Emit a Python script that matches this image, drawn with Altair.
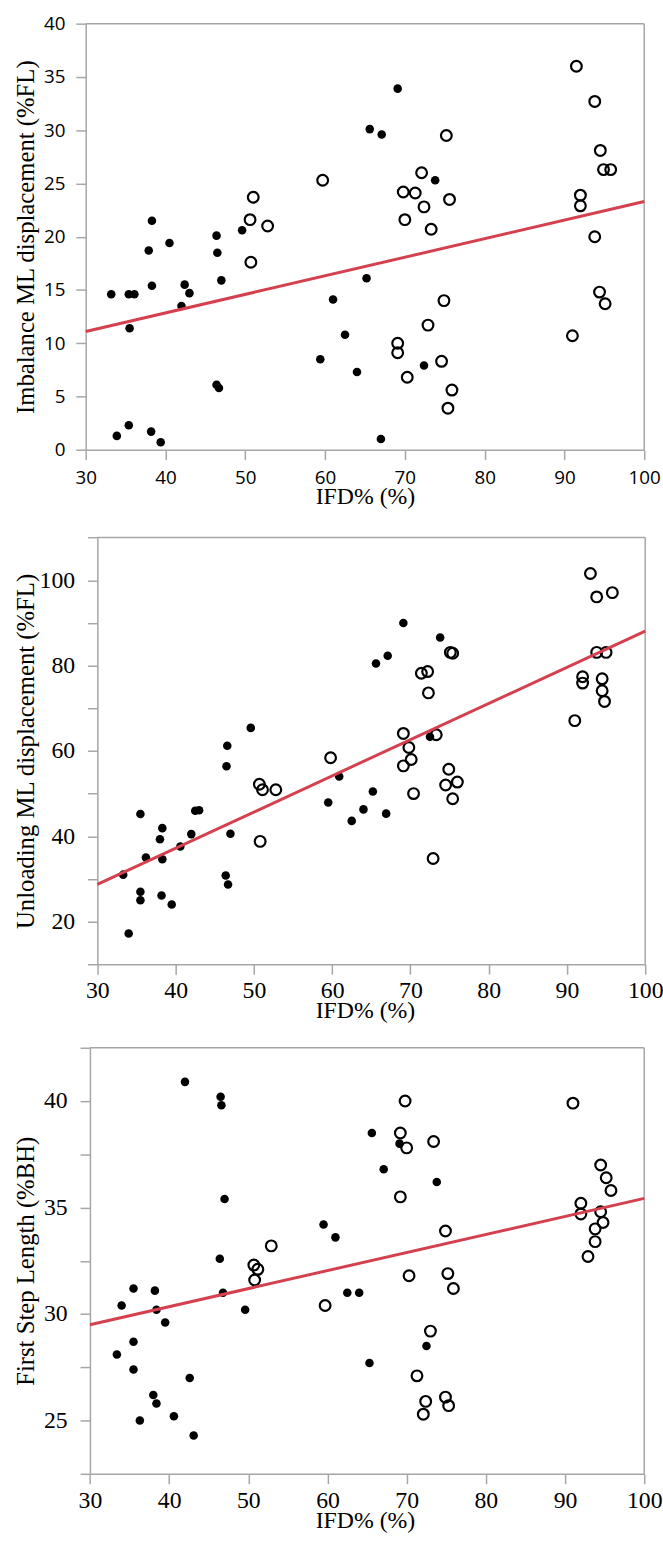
import altair as alt
import pandas as pd

# ---------------- data ----------------
ifd_ticks = [30, 40, 50, 60, 70, 80, 90, 100]
fit_x = [30, 100]

# Panel 1: Imbalance ML displacement (%FL)
p1_filled_x = [69.1, 65.6, 67.1, 73.8, 38.3, 40.5, 37.9, 46.4, 46.5, 49.6,
               65.2, 47.0, 33.2, 35.4, 36.1, 38.3, 42.4, 43.0, 42.0, 35.5,
               61.0, 62.5, 59.4, 64.0, 72.4, 46.4, 46.7, 33.9, 35.4, 38.2, 39.4, 67.0]
p1_filled_y = [33.9, 30.1, 29.6, 25.3, 21.5, 19.4, 18.7, 20.1, 18.5, 20.6,
               16.1, 15.9, 14.6, 14.6, 14.6, 15.4, 15.5, 14.7, 13.5, 11.4,
               14.1, 10.8, 8.5, 7.3, 7.9, 6.1, 5.8, 1.3, 2.3, 1.7, 0.7, 1.0]
p1_open_x = [91.5, 93.8, 75.2, 94.5, 94.9, 95.8, 59.7, 72.1, 69.8, 71.3,
             75.6, 72.4, 70.0, 73.3, 92.0, 92.0, 93.8, 51.0, 50.6, 52.8,
             50.7, 74.9, 94.4, 95.1, 91.0, 72.9, 69.1, 69.1, 74.6, 70.3, 75.9, 75.4]
p1_open_y = [36.0, 32.7, 29.5, 28.1, 26.3, 26.3, 25.3, 26.0, 24.2, 24.1,
             23.5, 22.8, 21.6, 20.7, 23.9, 22.9, 20.0, 23.7, 21.6, 21.0,
             17.6, 14.0, 14.8, 13.7, 10.7, 11.7, 10.0, 9.1, 8.3, 6.8, 5.6, 3.9]
p1_fit_y = [11.1, 23.3]
p1_y_ticks = [0, 5, 10, 15, 20, 25, 30, 35, 40]

# Panel 2: Unloading ML displacement (%FL)
p2_filled_x = [69.1, 73.8, 67.1, 65.6, 72.5, 49.6, 46.6, 46.5, 60.9,
               65.2, 59.5, 64.0, 66.9, 62.5, 35.5, 42.5, 43.0, 42.0, 47.0,
               38.3, 38.0, 40.6, 36.2, 38.3, 33.3, 46.4, 46.7, 35.5, 35.5,
               38.2, 39.5, 34.0]
p2_filled_y = [90.0, 86.6, 82.3, 80.5, 63.3, 65.4, 61.2, 56.4, 54.0,
               50.5, 47.9, 46.3, 45.3, 43.6, 45.2, 46.0, 46.1, 40.5, 40.6,
               41.9, 39.3, 37.6, 35.0, 34.6, 31.0, 30.8, 28.7, 27.0, 25.0,
               26.1, 24.0, 17.2]
p2_open_x = [93.0, 93.8, 95.8, 93.8, 95.0, 75.1, 75.4, 92.0, 92.0, 94.5,
             94.5, 94.8, 91.0, 71.4, 72.2, 72.3, 69.1, 73.3, 69.8, 70.1,
             69.1, 74.9, 59.8, 50.7, 51.1, 52.8, 74.5, 76.0, 70.4, 75.4, 50.8, 72.9]
p2_open_y = [101.6, 96.1, 97.1, 83.1, 83.1, 83.1, 82.9, 77.4, 75.9, 76.9,
             74.1, 71.6, 67.1, 78.2, 78.6, 73.6, 64.1, 63.8, 60.8, 58.0,
             56.5, 55.7, 58.4, 52.2, 50.9, 50.9, 52.0, 52.7, 50.0, 48.8, 38.8, 34.8]
p2_fit_y = [28.7, 88.1]
p2_y_ticks = [10, 20, 30, 40, 50, 60, 70, 80, 90, 100, 110]

# Panel 3: First Step Length (%BH)
p3_filled_x = [42.0, 46.5, 46.6, 47.0, 65.6, 69.1, 67.1, 73.8, 59.5, 61.0, 46.4,
               35.5, 38.2, 46.8, 62.5, 64.0, 34.0, 38.4, 49.6, 39.5, 35.5,
               33.4, 35.5, 72.5, 65.3, 42.6, 38.0, 38.4, 36.3, 40.6, 43.1]
p3_filled_y = [40.9, 40.2, 39.8, 35.4, 38.5, 38.0, 36.8, 36.2, 34.2, 33.6, 32.6,
               31.2, 31.1, 31.0, 31.0, 31.0, 30.4, 30.2, 30.2, 29.6, 28.7,
               28.1, 27.4, 28.5, 27.7, 27.0, 26.2, 25.8, 25.0, 25.2, 24.3]
p3_open_x = [69.8, 91.0, 69.2, 70.0, 73.4, 69.2, 94.5, 95.2, 95.8, 92.0, 92.0,
             94.5, 94.8, 93.8, 93.8, 92.9, 74.9, 52.9, 50.7, 51.2, 50.8, 70.3,
             75.2, 75.9, 59.7, 73.0, 71.3, 72.4, 72.1, 74.9, 75.3]
p3_open_y = [40.0, 39.9, 38.5, 37.8, 38.1, 35.5, 37.0, 36.4, 35.8, 35.2, 34.7,
             34.8, 34.3, 34.0, 33.4, 32.7, 33.9, 33.2, 32.3, 32.1, 31.6, 31.8,
             31.9, 31.2, 30.4, 29.2, 27.1, 25.9, 25.3, 26.1, 25.7]
p3_fit_y = [29.5, 35.43]
p3_y_ticks = [22.5, 25, 27.5, 30, 32.5, 35, 37.5, 40, 42.5]

# ---------------- styling ----------------
GRAY = "#a6a6a6"
RED = "#d5404f"
SERIF = "Liberation Serif"
SANS = "Open Sans"


def make_panel(fx, fy, ox, oy, fit_y, ydom, yticks, ylabel_expr, ytitle,
               tick_font, tick_fs, ylpad, xlpad, W, H, s, t, ytx):
    filled = pd.DataFrame({"IFD": fx, "val": fy})
    opened = pd.DataFrame({"IFD": ox, "val": oy})
    fit = pd.DataFrame({"IFD": fit_x, "val": fit_y})
    frame = pd.DataFrame({"k": [0]})

    xaxis = alt.Axis(values=ifd_ticks, title="IFD% (%)", grid=False,
                     labelFont=tick_font, labelFontSize=tick_fs,
                     labelPadding=xlpad, labelFlush=False, labelOverlap=False,
                     titleFont=SERIF, titleFontSize=24, titleFontWeight="normal",
                     titleX=282.5, titleY=54, titleBaseline="alphabetic")
    ykw = dict(values=yticks, title=ytitle, grid=False,
               labelFont=tick_font, labelFontSize=tick_fs,
               labelPadding=ylpad, labelFlush=False, labelOverlap=False,
               titleFont=SERIF, titleFontSize=25, titleFontWeight="normal",
               titleX=ytx, titleBaseline="middle", offset=-s)
    if ylabel_expr:
        ykw["labelExpr"] = ylabel_expr
    yaxis = alt.Axis(**ykw)

    x_enc = alt.X("IFD:Q", scale=alt.Scale(domain=[30, 100], range=[s, W],
                                           nice=False, zero=False), axis=xaxis)
    y_enc = alt.Y("val:Q", scale=alt.Scale(domain=ydom, range=[H, t],
                                           nice=False, zero=False), axis=yaxis)

    top = alt.Chart(frame).mark_rule(color=GRAY, strokeWidth=1.5).encode(
        x=alt.value(s), x2=alt.value(W), y=alt.value(t))
    right = alt.Chart(frame).mark_rule(color=GRAY, strokeWidth=1.5).encode(
        x=alt.value(W), y=alt.value(t), y2=alt.value(H))
    dots = alt.Chart(filled).mark_circle(size=75, color="black", opacity=1).encode(
        x=x_enc, y=y_enc)
    rings = alt.Chart(opened).mark_point(shape="circle", filled=False, size=118,
                                         strokeWidth=2.2, color="black",
                                         opacity=1).encode(x=x_enc, y=y_enc)
    line = alt.Chart(fit).mark_line(color=RED, strokeWidth=3).encode(
        x=x_enc, y=y_enc)
    return alt.layer(top, right, dots, rings, line).properties(width=W, height=H)


p1 = make_panel(p1_filled_x, p1_filled_y, p1_open_x, p1_open_y, p1_fit_y,
                [0, 40], p1_y_ticks, None, "Imbalance ML displacement (%FL)",
                SANS, 19, 11, 9.3, 565, 431, 0, 0, -61)
p2 = make_panel(p2_filled_x, p2_filled_y, p2_open_x, p2_open_y, p2_fit_y,
                [10, 110], p2_y_ticks, "datum.value % 20 === 0 ? datum.label : ''",
                "Unloading ML displacement (%FL)",
                SERIF, 24, 13, 4.8, 566, 436, 11.8, 4.4, -72.2)
p3 = make_panel(p3_filled_x, p3_filled_y, p3_open_x, p3_open_y, p3_fit_y,
                [22.5, 42.5], p3_y_ticks, "datum.value % 5 === 0 ? datum.label : ''",
                "First Step Length (%BH)",
                SERIF, 24, 13, 5.3, 565, 431, 4.3, 0, -65.3)

chart = alt.vconcat(p1, p2, p3, spacing=84.5, bounds="flush").properties(
    padding={"left": 12.7, "top": 6, "right": 0, "bottom": 0}
).configure_view(strokeWidth=0).configure_axis(
    domainColor=GRAY, tickColor=GRAY, domainWidth=1.5, tickWidth=1.5,
    tickSize=10, labelColor="black", titleColor="black",
    titleFont=SERIF, titleFontWeight="normal", labelFont=SERIF
)

chart.save("out.html", embed_options={"renderer": "svg", "actions": False})
